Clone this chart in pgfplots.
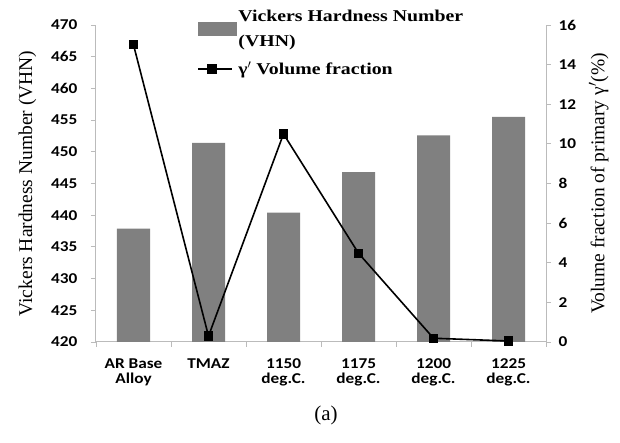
\documentclass[border=0pt]{standalone}
\usepackage{pgfplots}
\pgfplotsset{compat=1.18}
\usepackage{fontspec}
\setmainfont{Liberation Serif}
\newfontfamily\tickfont[FakeStretch=1.15]{Carlito}
\newfontfamily\legfont[FakeStretch=1.2]{Liberation Serif}
\definecolor{barg}{HTML}{808080}
\definecolor{axg}{HTML}{BBBBBB}
\begin{document}
\begin{tikzpicture}
\pgfplotsset{
  common/.style={
    scale only axis, width=450pt, height=317pt,
    xmin=-0.5, xmax=5.5,
    tick align=outside,
    axis line style={axg, line width=1pt},
    every tick/.style={axg, line width=0.8pt},
    major tick length=5pt, minor tick length=5pt,
    /pgf/number format/assume math mode=true,
    tick label style={font=\tickfont\bfseries\fontsize{15}{15}\selectfont, black},
    label style={font=\fontsize{19.5}{19.5}\selectfont},
  }
}
\begin{axis}[common,
  name=main,
  ymin=420, ymax=470, ytick={420,425,...,470},
  axis y line*=left, axis x line*=bottom,
  xtick={0,...,5}, major x tick style={draw=none},
  minor xtick={-0.5,0.5,...,5.5},
  xticklabels={{AR Base\\Alloy},TMAZ,{1150\\deg.C.},{1175\\deg.C.},{1200\\deg.C.},{1225\\deg.C.}},
  xticklabel style={align=center, yshift=-8pt},
  yticklabel style={xshift=-10pt},
  ylabel={Vickers Hardness Number (VHN)},
  ylabel style={yshift=8pt},
]
\addplot[ybar, bar width=33pt, fill=barg, draw=none] coordinates {
(0,437.9) (1,451.4) (2,440.4) (3,446.8) (4,452.6) (5,455.5)};
\end{axis}
\begin{axis}[common,
  ymin=0, ymax=16, ytick={0,2,...,16},
  axis y line*=right, axis x line=none,
  yticklabel style={xshift=4pt},
  ylabel={Volume fraction of primary γ$'$(\%)},
  ylabel style={yshift=-6pt},
  legend style={at={(0.225,1.055)}, anchor=north west, draw=none, fill=none,
    font=\legfont\bfseries\fontsize{16.5}{25}\selectfont, nodes={align=left},
    row sep=10pt, inner sep=0pt},
  legend cell align=left,
]
\addlegendimage{legend image code/.code={\fill[barg] (0pt,-6pt) rectangle (38pt,7pt);}}
\addlegendentry{Vickers Hardness Number\\(VHN)}
\addplot[black, line width=1.6pt, mark=square*, mark size=3.8pt,
  legend image code/.code={\draw[black, line width=1.6pt] (0pt,0pt) -- (34pt,0pt);
    \fill[black] (10pt,-4pt) rectangle (18pt,4pt);}] coordinates {
(0,15.0) (1,0.3) (2,10.5) (3,4.48) (4,0.19) (5,0.05)};
\addlegendentry{γ$'$ Volume fraction}
\end{axis}
\node[font=\fontsize{21}{21}\selectfont] at (230pt,-73pt) {(a)};
\path[use as bounding box] (-96pt,-101pt) rectangle (524pt,342pt);
\end{tikzpicture}
\end{document}
